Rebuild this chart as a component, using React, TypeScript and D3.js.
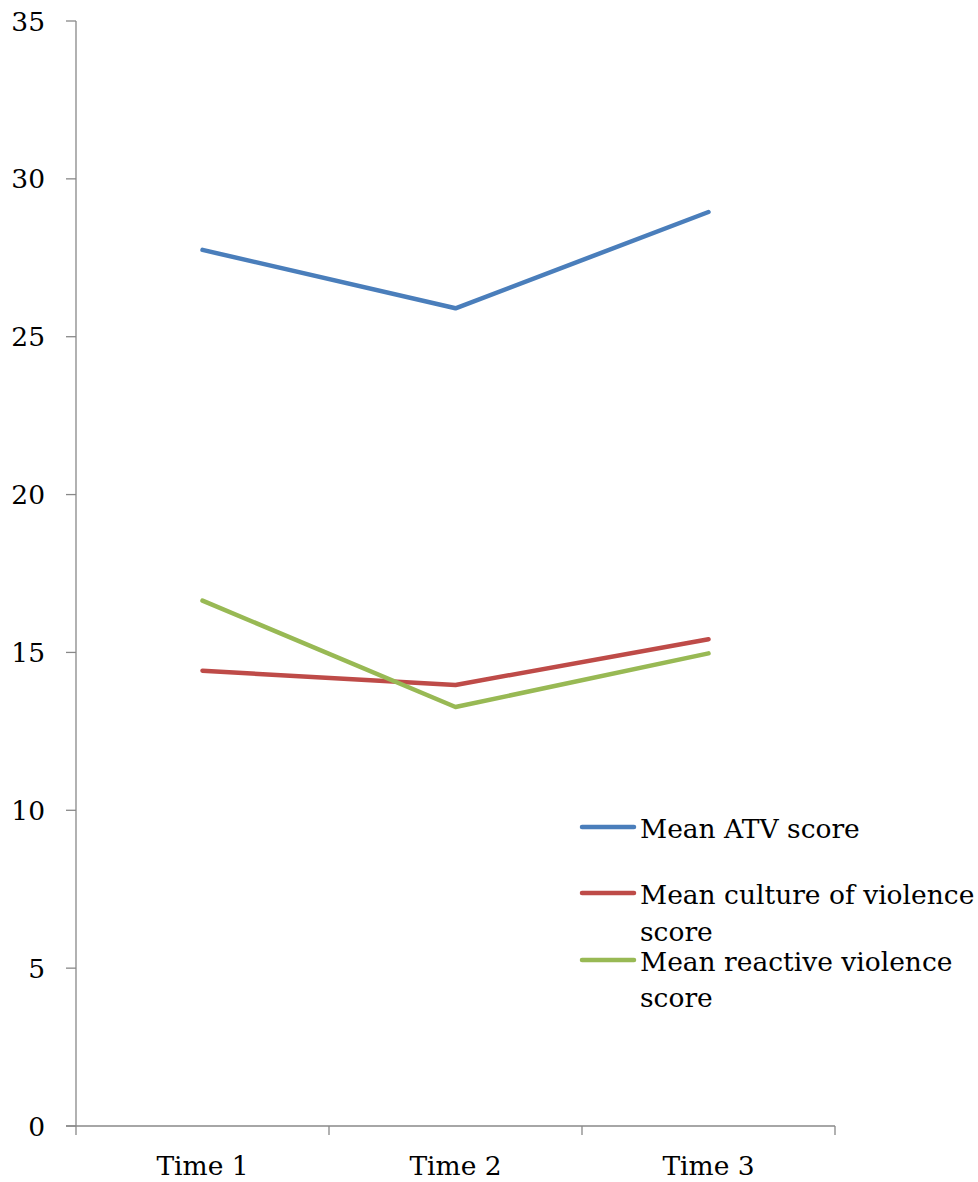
import React from "react";
import * as d3 from "d3";

const categories = ["Time 1", "Time 2", "Time 3"];
const atv = [27.75, 25.9, 28.95];
const culture = [14.42, 13.97, 15.42];
const reactive = [16.64, 13.27, 14.97];
const yTicks = [0, 5, 10, 15, 20, 25, 30, 35];

const seriesNames = ["Mean ATV score", "Mean culture of violence score", "Mean reactive violence score"];
const seriesColors = ["#4A7EBB", "#BE4B48", "#98B954"];
const seriesData = [atv, culture, reactive];

const W = 978, H = 1182;
const left = 76, right = 835, top = 21, bottom = 1126;
const FONT = "'DejaVu Serif', serif";
const FS = 26.5;

export default function App() {
  const x = d3.scaleBand().domain(categories).range([left, right]).paddingInner(0).paddingOuter(0);
  const y = d3.scaleLinear().domain([0, 35]).range([bottom, top]);
  const line = d3.line<number>()
    .x((_, i) => (x(categories[i]) as number) + x.bandwidth() / 2)
    .y((d) => y(d));
  const boundaries = [...categories.map((c) => x(c) as number), right];

  const legendRows = [
    { lineY: 827, lines: [{ t: "Mean ATV score", y: 838 }] },
    { lineY: 893, lines: [{ t: "Mean culture of violence", y: 904 }, { t: "score", y: 941 }] },
    { lineY: 960, lines: [{ t: "Mean reactive violence", y: 971 }, { t: "score", y: 1007 }] },
  ];

  return (
    <svg width={W} height={H} style={{ display: "block", position: "absolute", left: 0, top: 0 }} fontFamily={FONT}>
      <rect width={W} height={H} fill="#fff" />
      {/* y axis */}
      <line x1={left} x2={left} y1={top} y2={bottom} stroke="#888" strokeWidth={1.3} />
      {yTicks.map((t) => (
        <g key={t}>
          <line x1={left - 10} x2={left} y1={y(t)} y2={y(t)} stroke="#888" strokeWidth={1.3} />
          <text x={45} y={y(t)} dy="0.36em" textAnchor="end" fontSize={FS} fill="#000">{t}</text>
        </g>
      ))}
      {/* x axis */}
      <line x1={left - 10} x2={right} y1={bottom} y2={bottom} stroke="#888" strokeWidth={1.3} />
      {boundaries.map((b, i) => (
        <line key={i} x1={b} x2={b} y1={bottom} y2={bottom + 9} stroke="#888" strokeWidth={1.3} />
      ))}
      {categories.map((c) => (
        <text key={c} x={(x(c) as number) + x.bandwidth() / 2} y={1175} textAnchor="middle" fontSize={FS} fill="#000">{c}</text>
      ))}
      {/* series */}
      {seriesData.map((s, i) => (
        <path key={i} d={line(s) || ""} fill="none" stroke={seriesColors[i]} strokeWidth={4.5} strokeLinecap="round" strokeLinejoin="round" />
      ))}
      {/* legend */}
      {legendRows.map((r, i) => (
        <g key={i}>
          <title>{seriesNames[i]}</title>
          <line x1={582} x2={634} y1={r.lineY} y2={r.lineY} stroke={seriesColors[i]} strokeWidth={4.5} strokeLinecap="round" />
          {r.lines.map((l, j) => (
            <text key={j} x={640} y={l.y} fontSize={FS} fill="#000">{l.t}</text>
          ))}
        </g>
      ))}
    </svg>
  );
}
